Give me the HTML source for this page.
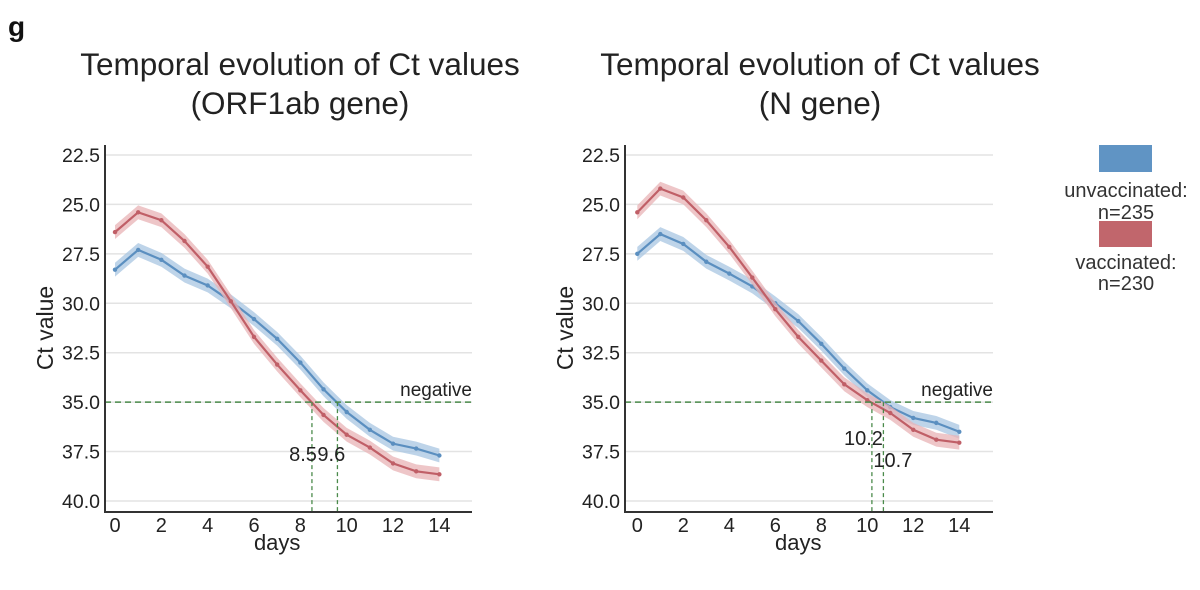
<!DOCTYPE html>
<html><head><meta charset="utf-8"><style>
html,body{margin:0;padding:0;background:#fff;}
svg{display:block;font-family:"Liberation Sans",sans-serif;}
</style></head><body>
<svg id="fig" width="1200" height="590" viewBox="0 0 1200 590" xmlns="http://www.w3.org/2000/svg">
<text x="8" y="36" font-size="28" font-weight="bold" fill="#111">g</text>
<g id="legend">
<rect x="1099" y="145" width="53" height="27" fill="#6094c4"/>
<text x="1126" y="197" font-size="20" text-anchor="middle" fill="#333">unvaccinated:</text>
<text x="1126" y="219" font-size="20" text-anchor="middle" fill="#333">n=235</text>
<rect x="1099" y="221" width="53" height="26" fill="#c1666c"/>
<text x="1126" y="269" font-size="20" text-anchor="middle" fill="#333">vaccinated:</text>
<text x="1126" y="290" font-size="20" text-anchor="middle" fill="#333">n=230</text>
</g>
</svg>
<script>
const days = [0,1,2,3,4,5,6,7,8,9,10,11,12,13,14];
const yTicks = [22.5,25.0,27.5,30.0,32.5,35.0,37.5,40.0];
const xTicks = [0,2,4,6,8,10,12,14];
const orfUnvacc = [28.3,27.3,27.8,28.6,29.1,29.9,30.8,31.8,33.0,34.35,35.5,36.4,37.1,37.35,37.7];
const orfVacc = [26.4,25.4,25.8,26.85,28.15,29.9,31.7,33.1,34.4,35.65,36.65,37.3,38.1,38.5,38.65];
const nUnvacc = [27.5,26.5,27.0,27.9,28.5,29.15,30.0,30.9,32.05,33.3,34.4,35.25,35.8,36.05,36.5];
const nVacc = [25.4,24.2,24.65,25.8,27.15,28.7,30.3,31.7,32.9,34.1,34.9,35.55,36.4,36.9,37.05];
const orfCross = [8.5,9.6];
const nCross = [10.2,10.7];
const negLevel = 35.0;
const bandHalf = 0.35;

const svg = document.getElementById('fig');
const NS = 'http://www.w3.org/2000/svg';
function mk(tag, attrs, parent){const e=document.createElementNS(NS,tag);for(const k in attrs)e.setAttribute(k,attrs[k]);(parent||svg).appendChild(e);return e;}

function panel(cfg){
  const g = mk('g',{});
  
  
  const x0=cfg.x0, pxDay=cfg.pxDay, yTop=155, pxUnit=19.77;
  const X = d => x0 + d*pxDay;
  const Y = v => yTop + (v-22.5)*pxUnit;
  const axL = cfg.axL, axR = cfg.axR, axB = 512;
  const t1 = mk('text',{x:cfg.tx,y:75,'font-size':31.5,'text-anchor':'middle',fill:'#222'},g);
  t1.textContent='Temporal evolution of Ct values';
  
  
  const t2 = mk('text',{x:cfg.tx,y:114,'font-size':31.5,'text-anchor':'middle',fill:'#222'},g);
  t2.textContent=cfg.sub;
  
  
  yTicks.forEach(v=>{
    const l = mk('line',{x1:axL,x2:axR,y1:Y(v),y2:Y(v),stroke:'#e3e3e3','stroke-width':1.5},g);
    
    
    const tl = mk('text',{x:axL-5,y:Y(v)+7,'font-size':19.5,'text-anchor':'end',fill:'#222'},g);
    tl.textContent=v.toFixed(1);
    
    
  });
  xTicks.forEach(d=>{
    const tl = mk('text',{x:X(d),y:532,'font-size':20,'text-anchor':'middle',fill:'#222'},g);
    tl.textContent=d;
    
    
  });
  const xl = mk('text',{x:X(7),y:550,'font-size':22,'text-anchor':'middle',fill:'#222'},g);
  xl.textContent='days';
  
  
  const yl = mk('text',{x:0,y:0,'font-size':23,'text-anchor':'middle',fill:'#222',transform:`translate(${axL-52},${Y(31.25)}) rotate(-90)`},g);
  yl.textContent='Ct value';
  
  
  [[cfg.blue,'#5b8fc0','#a8c6e2','series-unvaccinated'],[cfg.red,'#c05f67','#e8b3b6','series-vaccinated']].forEach(([vals,lc,bc,nm])=>{
    let up = days.map((d,i)=>X(d)+','+Y(vals[i]-bandHalf)).join(' ');
    let dn = days.slice().reverse().map(d=>X(d)+','+Y(vals[d]+bandHalf)).join(' ');
    const band = mk('polygon',{points:up+' '+dn,fill:bc,opacity:0.75},g);
    
    
    const pl = mk('polyline',{points:days.map((d,i)=>X(d)+','+Y(vals[i])).join(' '),fill:'none',stroke:lc,'stroke-width':2.2},g);
    
    
    days.forEach((d,i)=>{
      const c = mk('circle',{cx:X(d),cy:Y(vals[i]),r:2.2,fill:lc},g);
      
      
    });
  });
  const nl = mk('line',{x1:axL,x2:axR,y1:Y(negLevel),y2:Y(negLevel),stroke:'#4a8a4a','stroke-width':1.5,'stroke-dasharray':'6,4'},g);
  
  
  const nt = mk('text',{x:axR,y:Y(negLevel)-6,'font-size':19,'text-anchor':'end',fill:'#222'},g);
  nt.textContent='negative';
  
  
  cfg.cross.forEach((c,i)=>{
    const vl = mk('line',{x1:X(c),x2:X(c),y1:Y(negLevel),y2:axB,stroke:'#4a8a4a','stroke-width':1.3,'stroke-dasharray':'4,3'},g);
    
    
    const lt = mk('text',{x:X(c)+cfg.lblDx[i],y:cfg.lblY[i],'font-size':20,'text-anchor':cfg.lblAnchor[i],fill:'#222'},g);
    lt.textContent=c.toFixed(1);
    
    
  });
  const ya = mk('line',{x1:axL,x2:axL,y1:145,y2:axB+1,stroke:'#333','stroke-width':2},g);
  
  
  const xa = mk('line',{x1:axL,x2:axR,y1:axB,y2:axB,stroke:'#333','stroke-width':2},g);
  
  
}
panel({name:'chart-orf1ab',x0:115,pxDay:23.17,axL:105,axR:472,tx:300,sub:'(ORF1ab gene)',blue:orfUnvacc,red:orfVacc,cross:orfCross,lblDx:[5,-20],lblY:[461,461],lblAnchor:['end','start']});
panel({name:'chart-n-gene',x0:637.3,pxDay:23,axL:625,axR:993,tx:820,sub:'(N gene)',blue:nUnvacc,red:nVacc,cross:nCross,lblDx:[11,-10],lblY:[445,467],lblAnchor:['end','start']});
</script>
</body></html>
